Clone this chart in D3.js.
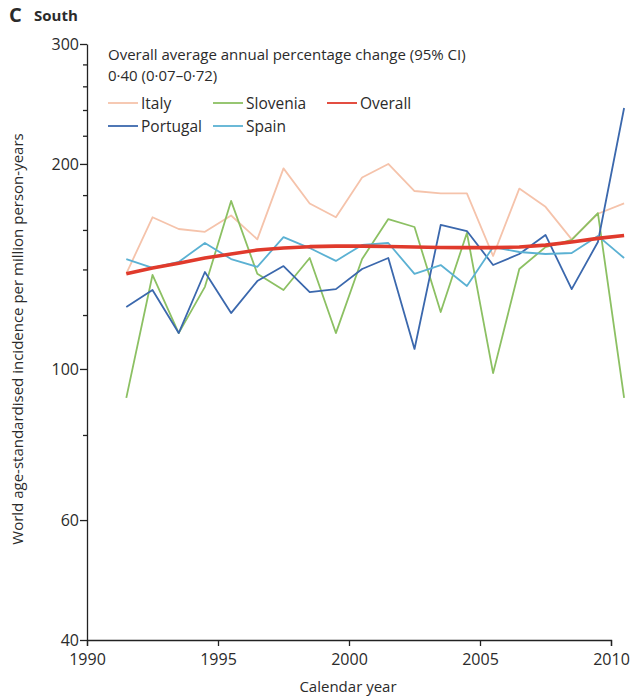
<!DOCTYPE html>
<html>
<head>
<meta charset="utf-8">
<script src="https://cdn.jsdelivr.net/npm/d3@7"></script>
<style>
  body { margin: 0; background: #fff; }
  text { font-family: "Open Sans", "Noto Sans", sans-serif; fill: #2b2b2b; }
  .axis path, .axis line { stroke: #222; stroke-width: 1.3; }
</style>
</head>
<body>
<svg id="chart"></svg>
<script>
// data (incidence per million person-years)
var years = [1991,1992,1993,1994,1995,1996,1997,1998,1999,2000,2001,2002,2003,2004,2005,2006,2007,2008,2009,2010];
var italy    = [138,167,160.5,159,168,155,197,175,167,191,200,182.5,181,181,146.5,184,173,155,169,175];
var slovenia = [90.7,137.4,112.9,132,176.5,138,130.6,145.5,112.9,145,166,161.6,121.2,158.4,98.6,140.2,151,154.7,169.4,90.7];
var portugal = [123.3,130.6,112.9,138.8,120.8,134.6,141.6,129.7,131,140.2,145.5,107,162.7,159.4,142.1,147.5,157.3,131,153.6,241.6];
var spain    = [145,140.7,143.6,153.1,145,141.2,156.2,150.5,144.1,152.1,153.1,137.9,142.1,132.4,151,148.5,147.5,148,156.8,145.5];
var overall  = [138,140.7,143,145.5,147.5,149.5,150.5,151.2,151.5,151.5,151.3,151,150.8,150.7,150.7,151,152,153.6,155.5,157];

var yTicks = [40,60,80,100,120,140,160,180,200,220,240,260,280,300];
var yLabelled = [40,60,100,200,300];
var xTicks = [1990,1995,2000,2005,2010];

var series = [
  {name:"Italy", values:italy, color:"#f5c3ab", width:1.8},
  {name:"Slovenia", values:slovenia, color:"#8cc063", width:1.8},
  {name:"Portugal", values:portugal, color:"#3b68ad", width:1.8},
  {name:"Spain", values:spain, color:"#5bb1d3", width:1.8},
  {name:"Overall", values:overall, color:"#e03a2c", width:3.6}
];
var legendRows = [["Italy","Slovenia","Overall"],["Portugal","Spain"]];

var W = 630, H = 697;
var margin = {top: 44, left: 87, right: 20, bottom: 57};

document.addEventListener("DOMContentLoaded", function(){
  drawChart()
})

function drawChart(){
  var svg = d3.select("#chart").attr("width", W).attr("height", H)

  var x = d3.scaleLinear().domain([1990, 2010]).range([margin.left, 611])
  var y = d3.scaleLog().domain([40, 300]).range([H - margin.bottom, margin.top])

  // panel title
  svg.append("text").attr("x", 9).attr("y", 22).text("C")
    .style("font-size", "20px").style("font-weight", "bold")
  svg.append("text").attr("x", 34).attr("y", 21).text("South")
    .style("font-size", "15px").style("font-weight", "bold")

  // y axis
  var yAxis = svg.append("g").attr("class", "axis")
    .attr("transform", "translate(" + margin.left + ",0)")
    .call(d3.axisLeft(y).tickValues(yTicks).tickSizeOuter(0)
      .tickFormat(function(d){ return yLabelled.includes(d) ? d : "" }))
  yAxis.selectAll(".tick line").attr("x2", function(d){ return yLabelled.includes(d) ? -7 : -4 })
  yAxis.selectAll(".tick text").attr("x", -8).style("font-size", "16px").style("fill", "#2b2b2b")

  // x axis
  var xAxis = svg.append("g").attr("class", "axis")
    .attr("transform", "translate(0," + (H - margin.bottom) + ")")
    .call(d3.axisBottom(x).tickValues(xTicks).tickFormat(d3.format("d")).tickSizeOuter(0).tickSize(6))
  xAxis.selectAll(".tick text").attr("y", 14).style("font-size", "16px").style("fill", "#2b2b2b")

  svg.append("text").attr("x", 348).attr("y", 692).attr("text-anchor", "middle")
    .text("Calendar year").style("font-size", "15px")
  svg.append("text").attr("transform", "translate(23,339) rotate(-90)").attr("text-anchor", "middle")
    .text("World age-standardised incidence per million person-years").style("font-size", "15px")

  // lines
  var line = d3.line()
    .x(function(d, i){ return x(years[i] + 0.5) })
    .y(function(d){ return y(d) })

  svg.selectAll(".series")
    .data(series)
    .join("path").attr("class", "series")
    .attr("d", function(s){ return line(s.values) })
    .attr("fill", "none")
    .attr("stroke", function(s){ return s.color })
    .attr("stroke-width", function(s){ return s.width })
    .attr("stroke-linejoin", "round")

  // header text
  svg.append("text").attr("x", 108).attr("y", 60)
    .text("Overall average annual percentage change (95% CI)").style("font-size", "15px")
  svg.append("text").attr("x", 108).attr("y", 81)
    .text("0·40 (0·07–0·72)").style("font-size", "15px")

  // legend
  var colX = [108, 213, 327];
  legendRows.forEach(function(row, r){
    row.forEach(function(name, c){
      var s = series.find(function(d){ return d.name == name })
      var ly = 103 + r * 23
      svg.append("line").attr("x1", colX[c]).attr("x2", colX[c] + 30)
        .attr("y1", ly).attr("y2", ly)
        .attr("stroke", s.color).attr("stroke-width", 1.8)
      svg.append("text").attr("x", colX[c] + 33).attr("y", ly + 5.5)
        .text(name).style("font-size", "15.5px")
    })
  })
}
</script>
</body>
</html>
